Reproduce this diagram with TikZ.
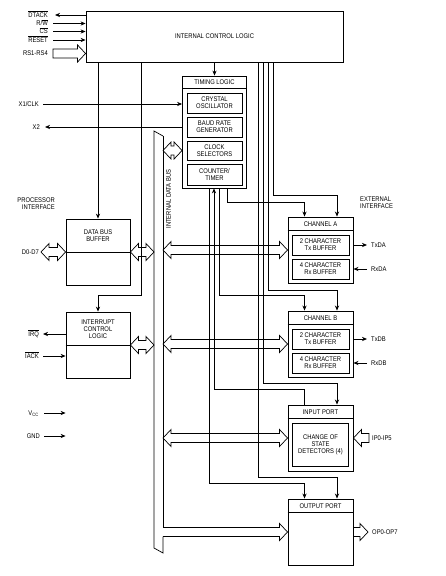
\documentclass[tikz,border=0pt]{standalone}
\usepackage{fontspec}
\setmainfont[FakeStretch=0.86]{Liberation Sans}
\usetikzlibrary{arrows.meta,calc}
\newcommand\ovl[1]{$\overline{\mbox{#1}}$}
% hollow double-headed arrow, #1 left end, #2 right end
\newcommand\fatdouble[2]{%
  \draw[fat] let \p1=(#1), \p2=(#2) in
  (\x1,\y1) -- (\x1+8pt,\y1+8.5pt) -- (\x1+8pt,\y1+4.5pt) -- (\x2-8pt,\y1+4.5pt)
  -- (\x2-8pt,\y1+8.5pt) -- (\x2,\y1) -- (\x2-8pt,\y1-8.5pt) -- (\x2-8pt,\y1-4.5pt)
  -- (\x1+8pt,\y1-4.5pt) -- (\x1+8pt,\y1-8.5pt) -- cycle;}
% hollow arrow pointing right, #1 tail, #2 tip
\newcommand\fatright[2]{%
  \draw[fat] let \p1=(#1), \p2=(#2) in
  (\x1,\y1+4.5pt) -- (\x2-8pt,\y1+4.5pt) -- (\x2-8pt,\y1+8.5pt) -- (\x2,\y1)
  -- (\x2-8pt,\y1-8.5pt) -- (\x2-8pt,\y1-4.5pt) -- (\x1,\y1-4.5pt) -- cycle;}
% same, open tail
\newcommand\fatrightopen[2]{%
  \draw[fat] let \p1=(#1), \p2=(#2) in
  (\x1,\y1+4.5pt) -- (\x2-8pt,\y1+4.5pt) -- (\x2-8pt,\y1+8.5pt) -- (\x2,\y1)
  -- (\x2-8pt,\y1-8.5pt) -- (\x2-8pt,\y1-4.5pt) -- (\x1,\y1-4.5pt);}
% hollow arrow pointing left, #1 tail (right), #2 tip (left)
\newcommand\fatleft[2]{%
  \draw[fat] let \p1=(#1), \p2=(#2) in
  (\x1,\y1+4.5pt) -- (\x2+8pt,\y1+4.5pt) -- (\x2+8pt,\y1+8.5pt) -- (\x2,\y1)
  -- (\x2+8pt,\y1-8.5pt) -- (\x2+8pt,\y1-4.5pt) -- (\x1,\y1-4.5pt) -- cycle;}
\begin{document}
\begin{tikzpicture}[x=1pt,y=-1pt,
  every node/.style={font=\fontsize{6.8}{7}\selectfont,inner sep=0pt},
  ln/.style={line width=0.7pt},
  arr/.style={ln,-{Stealth[length=5pt,width=4.2pt,inset=1.6pt]}},
  fat/.style={line width=0.7pt,line join=miter},
  bigbox/.style={draw,line width=0.85pt},
  rbox/.style={draw,line width=0.95pt,minimum width=65pt,minimum height=66pt},
  sbox/.style={draw,line width=0.7pt,align=center,minimum width=55pt,minimum height=20pt},
  csub/.style={draw,line width=0.7pt,align=center,minimum width=57pt,minimum height=20pt},
  lbl/.style={text height=4.9pt,text depth=0pt},
  lblR/.style={lbl,anchor=east},
  lblL/.style={lbl,anchor=west},
  txt/.style={align=center}]
\useasboundingbox (0,0) rectangle (446,576);

% ---------- blocks ----------
\node[bigbox,minimum width=257pt,minimum height=51pt] (icl) at (214.5,36.5) {INTERNAL CONTROL LOGIC};

\node[bigbox,minimum width=64pt,minimum height=112pt] (tim) at (214.5,132) {};
\node[lbl] (timh) at (214.5,82.5) {TIMING LOGIC};
\draw[ln] ($(tim.north west)+(0,13)$) -- ($(tim.north east)+(0,13)$);
\node[sbox] (xtal) at (214.5,103) {CRYSTAL\\OSCILLATOR};
\node[sbox] (baud) at (214.5,127) {BAUD RATE\\GENERATOR};
\node[sbox,minimum height=19pt] (clk) at (214.5,150.5) {CLOCK\\SELECTORS};
\node[sbox,minimum height=21pt] (ctr) at (214.5,174.5) {COUNTER/\\TIMER};

\node[bigbox,minimum width=64pt,minimum height=66pt] (buf) at (98,252) {};
\node[txt] (buft) at (98,235.5) {DATA BUS\\BUFFER};
\draw[ln] (buf.west) -- (buf.east);

\node[bigbox,minimum width=64pt,minimum height=66pt] (intr) at (98,345) {};
\node[txt] (intt) at (98,329) {INTERRUPT\\CONTROL\\LOGIC};
\draw[ln] (intr.west) -- (intr.east);

\node[rbox] (chA) at (320.5,250) {};
\node[lbl] (chAh) at (320.5,224) {CHANNEL A};
\draw[ln] ($(chA.north west)+(0,14)$) -- ($(chA.north east)+(0,14)$);
\node[csub] (txAb) at (320.5,245) {2 CHARACTER\\Tx BUFFER};
\node[csub] (rxAb) at (320.5,269) {4 CHARACTER\\Rx BUFFER};

\node[rbox] (chB) at (320.5,344) {};
\node[lbl] (chBh) at (320.5,318) {CHANNEL B};
\draw[ln] ($(chB.north west)+(0,14)$) -- ($(chB.north east)+(0,14)$);
\node[csub] (txBb) at (320.5,339) {2 CHARACTER\\Tx BUFFER};
\node[csub] (rxBb) at (320.5,363) {4 CHARACTER\\Rx BUFFER};

\node[rbox] (inp) at (320.5,438) {};
\node[lbl] (inph) at (320.5,412) {INPUT PORT};
\draw[ln] ($(inp.north west)+(0,14)$) -- ($(inp.north east)+(0,14)$);
\node[csub,minimum width=56pt,minimum height=43pt] (cos) at (320.5,444.5) {CHANGE OF\\STATE\\DETECTORS (4)};

\node[rbox] (outp) at (320.5,532) {};
\node[lbl] (outh) at (320.5,506) {OUTPUT PORT};
\draw[ln] ($(outp.north west)+(0,14)$) -- ($(outp.north east)+(0,14)$);

% ---------- internal data bus ----------
\coordinate (busL) at (154,0);
\coordinate (busR) at (163,0);
\draw[ln] (163,136) -- (154,131) -- (154,548) -- (163,553) -- ($(busR |- outp.west)+(0,4.5)$);
\draw[ln] ($(busR |- outp.west)+(0,-4.5)$) -- (163,136);
\node[lbl,rotate=90] (busl) at (168.5,199) {INTERNAL DATA BUS};

% ---------- fat bus arrows ----------
\fatdouble{busR |- clk.west}{tim.west |- clk.west}
\fatdouble{buf.east}{buf.east -| busL}
\fatdouble{intr.east}{intr.east -| busL}
\fatdouble{busR |- chA.west}{chA.west}
\fatdouble{busR |- chB.west}{chB.west}
\fatdouble{busR |- inp.west}{inp.west}
\fatrightopen{busR |- outp.west}{outp.west}

% ---------- processor-side signals ----------
\node[lblR] (dtack) at (48,15) {\ovl{DTACK}};
\node[lblR] (rw) at (48,23.5) {R/\ovl{W}};
\node[lblR] (cs) at (48,31.5) {\ovl{CS}};
\node[lblR] (reset) at (48,40) {\ovl{RESET}};
\node[lblR] (rsl) at (48,53.5) {RS1-RS4};
\draw[arr] (icl.west |- dtack.east) -- ([xshift=7pt]dtack.east);
\draw[arr] ([xshift=5pt]rw.east) -- (rw.east -| icl.west);
\draw[arr] ([xshift=5pt]cs.east) -- (cs.east -| icl.west);
\draw[arr] ([xshift=5pt]reset.east) -- (reset.east -| icl.west);
\fatright{[xshift=5pt]rsl.east}{rsl.east -| icl.west}

\node[lblR] (x1l) at (39,104) {X1/CLK};
\node[lblR] (x2l) at (40,127) {X2};
\draw[arr] ([xshift=4pt]x1l.east) -- (x1l.east -| tim.west);
\draw[arr] (tim.west |- x2l.east) -- ([xshift=5pt]x2l.east);

\node[lblR,align=right,text height=] (pif) at (55,203.5) {PROCESSOR\\INTERFACE};

\node[lblR] (d07) at (39,252) {D0-D7};
\fatdouble{[xshift=2pt]d07.east}{buf.west}

\node[lblR] (irq) at (39,334) {\ovl{IRQ}};
\node[lblR] (iack) at (39,356) {\ovl{IACK}};
\draw[arr] (intr.west |- irq.east) -- ([xshift=4pt]irq.east);
\draw[arr] ([xshift=4pt]iack.east) -- (iack.east -| intr.west);

\node[lblR] (vcc) at (39,413) {V\textsubscript{CC}};
\node[lblR] (gnd) at (40,436) {GND};
\draw[arr] ([xshift=5pt]vcc.east) -- (vcc.east -| intr.west);
\draw[arr] ([xshift=4pt]gnd.east) -- (gnd.east -| intr.west);

% ---------- control lines ----------
\draw[arr] (icl.south -| buf.north) -- (buf.north);
\coordinate (iTurn) at (141,295);
\draw[arr] (icl.south -| iTurn) -- (iTurn) -| (intr.north);
\draw[arr] (icl.south -| tim.north) -- (tim.north);

\coordinate (aL) at (304.5,0);
\coordinate (aR) at (337,0);
\coordinate (cA) at (273,195);
\coordinate (cB) at (268,290);
\coordinate (cI) at (263,383);
\coordinate (cO) at (258,477);
\coordinate (tA) at (227,202);
\coordinate (tB) at (219,295);
\coordinate (tI) at (214,389);
\coordinate (tO) at (209,483);

\draw[arr] (icl.south -| cA) -- (cA) -| (chA.north -| aR);
\draw[arr] (icl.south -| cB) -- (cB) -| (chB.north -| aR);
\draw[arr] (icl.south -| cI) -- (cI) -| (inp.north -| aR);
\draw[arr] (icl.south -| cO) -- (cO) -| (outp.north -| aR);

\draw[arr] (tim.south -| tA) -- (tA) -| (chA.north -| aL);
\draw[arr] (tim.south -| tB) -- (tB) -| (chB.north -| aL);
\draw[arr] (inp.north -| aL) |- (tI) -- (tim.south -| tI);
\draw[arr] (tim.south -| tO) -- (tO) -| (outp.north -| aL);

% ---------- external interface ----------
\node[lblL,align=left,text height=] (eif) at (360,202.5) {EXTERNAL\\INTERFACE};
\node[lblL] (txa) at (371,245) {TxDA};
\node[lblL] (rxa) at (371,269) {RxDA};
\draw[arr] (chA.east |- txa.west) -- ([xshift=-4pt]txa.west);
\draw[arr] ([xshift=-4pt]rxa.west) -- (chA.east |- rxa.west);
\node[lblL] (txb) at (371,339) {TxDB};
\node[lblL] (rxb) at (371,363) {RxDB};
\draw[arr] (chB.east |- txb.west) -- ([xshift=-4pt]txb.west);
\draw[arr] ([xshift=-4pt]rxb.west) -- (chB.east |- rxb.west);
\node[lblL] (ipl) at (372,438) {IP0-IP5};
\fatleft{[xshift=-3pt]ipl.west}{inp.east}
\node[lblL] (opl) at (372,532) {OP0-OP7};
\fatright{outp.east}{[xshift=-4pt]opl.west}
\end{tikzpicture}
\end{document}
